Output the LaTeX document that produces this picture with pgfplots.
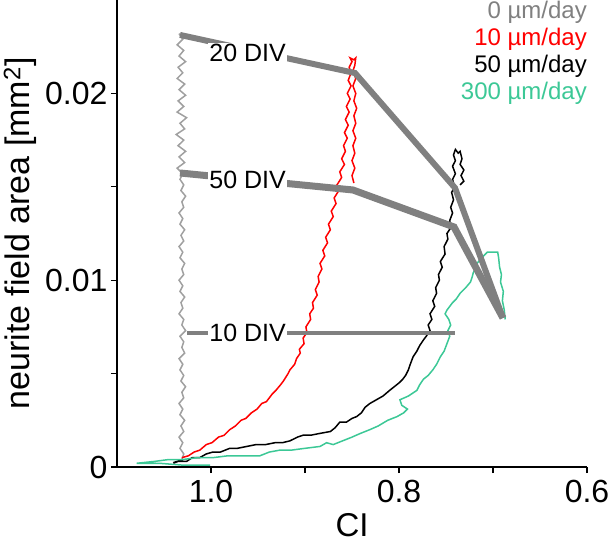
\documentclass[border=0pt]{standalone}
\usepackage{fontspec}
\setmainfont{Liberation Sans}
\usepackage{pgfplots}
\pgfplotsset{compat=1.18}
\definecolor{trgray}{RGB}{160,160,160}
\definecolor{divgray}{RGB}{128,128,128}
\definecolor{teal300}{RGB}{60,200,150}
\definecolor{red10}{RGB}{255,0,0}
\begin{document}
\begin{tikzpicture}
\begin{axis}[
 width=470pt, height=467pt, scale only axis,
 x dir=reverse,
 xmin=0.6, xmax=1.1, ymin=0, ymax=0.025,
 axis x line=bottom, axis y line=left,
 axis line style={-, line width=1.6pt},
 tick align=outside, major tick length=6pt, minor tick length=6pt,
 tick style={line width=1.4pt, black},
 xtick={0.6,0.8,1.0}, xticklabels={0.6,0.8,1.0},
 minor xtick={0.7,0.9},
 ytick={0,0.01,0.02}, yticklabels={0,0.01,0.02},
 minor ytick={0.005,0.015},
 ticklabel style={font=\fontsize{32}{38}\selectfont},
 xticklabel style={yshift=-4pt},
 scaled ticks=false,
 clip=false,
]
% 0 um/day
\addplot[trgray, line width=1.5pt] coordinates {
(1.031,0.0004) (1.029,0.0007) (1.033,0.0010) (1.030,0.0013) (1.034,0.0016) (1.029,0.0019) (1.032,0.0022) (1.028,0.0025) (1.033,0.0028) (1.030,0.0031) (1.034,0.0034) (1.029,0.0037) (1.031,0.0040) (1.027,0.0043) (1.032,0.0046) (1.029,0.0049) (1.033,0.0052) (1.030,0.0055) (1.034,0.0058) (1.028,0.0061) (1.031,0.0064) (1.029,0.0067) (1.033,0.0070) (1.027,0.0073) (1.031,0.0076) (1.029,0.0079) (1.034,0.0082) (1.030,0.0085) (1.032,0.0088) (1.028,0.0091) (1.033,0.0094) (1.030,0.0097) (1.034,0.0100) (1.029,0.0103) (1.031,0.0106) (1.028,0.0109) (1.033,0.0112) (1.030,0.0115) (1.034,0.0118) (1.029,0.0121) (1.032,0.0124) (1.028,0.0127) (1.033,0.0130) (1.030,0.0133) (1.034,0.0136) (1.029,0.0139) (1.031,0.0142) (1.027,0.0145) (1.032,0.0148) (1.029,0.0151) (1.033,0.0154) (1.030,0.0157) (1.036,0.0160) (1.028,0.0163) (1.034,0.0166) (1.027,0.0169) (1.035,0.0172) (1.029,0.0175) (1.037,0.0178) (1.028,0.0181) (1.033,0.0184) (1.026,0.0187) (1.036,0.0190) (1.029,0.0193) (1.035,0.0196) (1.027,0.0199) (1.034,0.0202) (1.028,0.0205) (1.036,0.0208) (1.030,0.0211) (1.035,0.0214) (1.027,0.0217) (1.034,0.0220) (1.029,0.0223) (1.036,0.0226) (1.030,0.0229) (1.034,0.0232)
};
% 10 um/day
\addplot[red10, line width=1.5pt] coordinates {
(1.031,0.0005) (1.024,0.0006) (1.018,0.0008) (1.012,0.0009) (1.005,0.0012) (0.999,0.0013) (0.992,0.0016) (0.986,0.0017) (0.980,0.0020) (0.974,0.0022) (0.968,0.0025) (0.963,0.0026) (0.957,0.0029) (0.951,0.0031) (0.946,0.0034) (0.941,0.0035) (0.935,0.0039) (0.931,0.0041) (0.926,0.0044) (0.923,0.0046) (0.918,0.0050) (0.916,0.0052) (0.911,0.0055) (0.909,0.0058) (0.905,0.0061) (0.906,0.0063) (0.901,0.0066) (0.902,0.0069) (0.898,0.0072) (0.899,0.0075) (0.894,0.0079) (0.895,0.0082) (0.891,0.0085) (0.892,0.0088) (0.887,0.0092) (0.889,0.0095) (0.885,0.0099) (0.886,0.0102) (0.882,0.0106) (0.884,0.0109) (0.879,0.0113) (0.881,0.0116) (0.876,0.0120) (0.878,0.0123) (0.873,0.0127) (0.875,0.0130) (0.870,0.0134) (0.872,0.0137) (0.867,0.0141) (0.869,0.0144) (0.864,0.0148) (0.866,0.0151) (0.861,0.0155) (0.863,0.0158) (0.858,0.0162) (0.861,0.0165) (0.857,0.0169) (0.859,0.0172) (0.855,0.0176) (0.858,0.0179) (0.854,0.0183) (0.857,0.0186) (0.853,0.0190) (0.856,0.0193) (0.852,0.0197) (0.855,0.0200) (0.851,0.0204) (0.854,0.0207) (0.851,0.0211) (0.853,0.0214) (0.850,0.0217) (0.852,0.0219) (0.848,0.0218) (0.846,0.0219) (0.847,0.0215) (0.849,0.0212) (0.846,0.0208) (0.849,0.0204) (0.846,0.0200) (0.848,0.0196) (0.845,0.0192) (0.848,0.0188) (0.846,0.0184) (0.849,0.0180) (0.846,0.0176) (0.849,0.0172) (0.847,0.0168) (0.850,0.0164) (0.847,0.0160) (0.850,0.0156) (0.848,0.0152)
};
% 50 um/day
\addplot[black, line width=1.5pt] coordinates {
(1.040,0.0002) (1.030,0.0004) (1.036,0.0003) (1.026,0.0003) (1.020,0.0005) (1.012,0.0005) (1.005,0.0007) (0.998,0.0008) (0.990,0.0008) (0.980,0.0010) (0.972,0.0010) (0.962,0.0011) (0.952,0.0012) (0.942,0.0012) (0.932,0.0013) (0.924,0.0013) (0.916,0.0014) (0.908,0.0016) (0.902,0.0017) (0.894,0.0017) (0.884,0.0018) (0.873,0.0019) (0.868,0.0021) (0.863,0.0024) (0.856,0.0024) (0.850,0.0026) (0.845,0.0027) (0.840,0.0029) (0.836,0.0032) (0.831,0.0034) (0.824,0.0036) (0.817,0.0038) (0.810,0.0041) (0.805,0.0043) (0.800,0.0045) (0.796,0.0047) (0.793,0.0049) (0.790,0.0052) (0.788,0.0055) (0.785,0.0059) (0.781,0.0062) (0.778,0.0065) (0.774,0.0068) (0.771,0.0070) (0.767,0.0073) (0.769,0.0076) (0.765,0.0079) (0.767,0.0082) (0.762,0.0086) (0.764,0.0089) (0.760,0.0093) (0.761,0.0096) (0.757,0.0100) (0.758,0.0103) (0.754,0.0107) (0.756,0.0110) (0.751,0.0114) (0.752,0.0118) (0.748,0.0122) (0.749,0.0125) (0.745,0.0128) (0.746,0.0132) (0.743,0.0136) (0.745,0.0139) (0.742,0.0143) (0.744,0.0147) (0.741,0.0150) (0.743,0.0154) (0.740,0.0157) (0.743,0.0161) (0.740,0.0164) (0.742,0.0167) (0.740,0.0170) (0.737,0.0168) (0.735,0.0169) (0.733,0.0165) (0.735,0.0162) (0.731,0.0159) (0.734,0.0156) (0.731,0.0153) (0.735,0.0151)
};
% 300 um/day
\addplot[teal300, line width=1.5pt] coordinates {
(1.001,0.0001) (1.030,0.0001) (1.055,0.0002) (1.079,0.0002) (1.060,0.0003) (1.045,0.0004) (1.030,0.0004) (1.015,0.0005) (0.998,0.0005) (0.982,0.0006) (0.965,0.0006) (0.948,0.0006) (0.938,0.0008) (0.927,0.0009) (0.915,0.0009) (0.900,0.0010) (0.884,0.0011) (0.877,0.0013) (0.870,0.0012) (0.860,0.0014) (0.850,0.0016) (0.841,0.0018) (0.831,0.0020) (0.822,0.0022) (0.812,0.0025) (0.802,0.0027) (0.795,0.0029) (0.791,0.0031) (0.797,0.0033) (0.799,0.0036) (0.790,0.0038) (0.781,0.0041) (0.778,0.0044) (0.774,0.0047) (0.769,0.0049) (0.764,0.0052) (0.760,0.0055) (0.756,0.0059) (0.752,0.0062) (0.749,0.0066) (0.746,0.0070) (0.748,0.0073) (0.745,0.0076) (0.747,0.0079) (0.751,0.0082) (0.749,0.0084) (0.743,0.0088) (0.739,0.0090) (0.735,0.0093) (0.729,0.0096) (0.724,0.0099) (0.722,0.0102) (0.721,0.0104) (0.718,0.0107) (0.717,0.0109) (0.712,0.0112) (0.706,0.0115) (0.700,0.0115) (0.695,0.0115) (0.694,0.0112) (0.693,0.0107) (0.691,0.0103) (0.692,0.0099) (0.689,0.0094) (0.690,0.0089) (0.688,0.0084) (0.687,0.0079)
};
% DIV lines
\addplot[divgray, line width=6pt] coordinates {(1.033,0.02313) (0.8468,0.02109) (0.7404,0.01494) (0.6894,0.00798)};
\addplot[divgray, line width=7pt] coordinates {(1.033,0.01574) (0.849,0.01483) (0.7415,0.01285) (0.6894,0.00798)};
\addplot[divgray, line width=4pt] coordinates {(1.026,0.00717) (0.7404,0.00717)};
\node[fill=white, inner sep=1pt, font=\fontsize{25}{30}\selectfont] at (axis cs:0.961,0.02216) {20 DIV};
\node[fill=white, inner sep=1pt, font=\fontsize{25}{30}\selectfont] at (axis cs:0.961,0.01536) {50 DIV};
\node[fill=white, inner sep=1pt, font=\fontsize{25}{30}\selectfont] at (axis cs:0.961,0.00717) {10 DIV};
\end{axis}
\begin{scope}[every node/.style={anchor=east, inner sep=0pt, font=\fontsize{24}{28}\selectfont}]
\node[text=divgray] at ([yshift=-12pt]current axis.north east) {0 µm/day};
\node[text=red10] at ([yshift=-39pt]current axis.north east) {10 µm/day};
\node[text=black] at ([yshift=-66pt]current axis.north east) {50 µm/day};
\node[text=teal300] at ([yshift=-93pt]current axis.north east) {300 µm/day};
\end{scope}
\node[rotate=90, font=\fontsize{34}{40}\selectfont] at ([xshift=-97pt]current axis.west) {neurite field area [mm\textsuperscript{2}]};
\node[inner sep=0pt, font=\fontsize{33}{40}\selectfont] at ([yshift=-58pt]current axis.south) {CI};
\pgfresetboundingbox
\path[use as bounding box] ([xshift=-117pt,yshift=-79pt]current axis.south west) rectangle ([xshift=22pt]current axis.north east);
\end{tikzpicture}
\end{document}
